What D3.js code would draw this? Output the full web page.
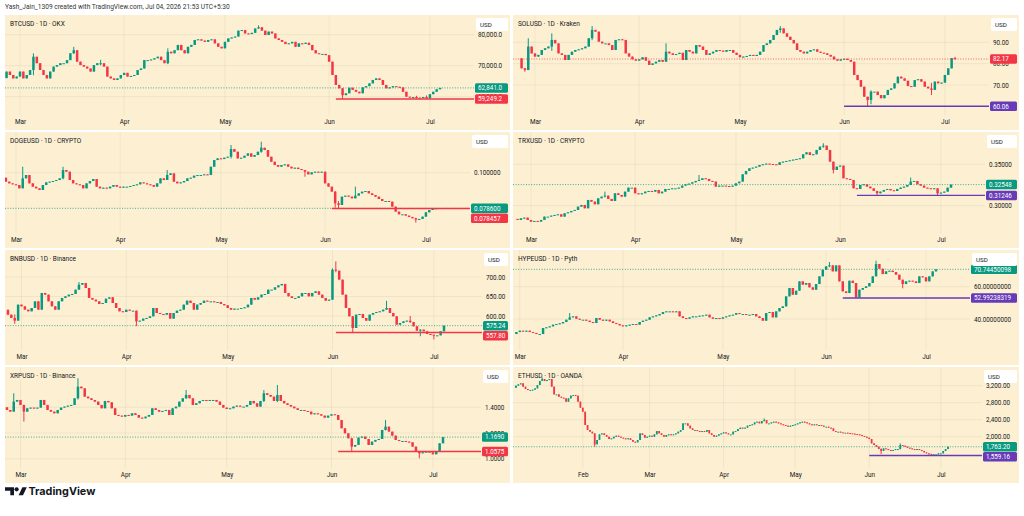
<!DOCTYPE html>
<html><head><meta charset="utf-8">
<script src="https://cdn.jsdelivr.net/npm/d3@7/dist/d3.min.js"></script>
<style>html,body{margin:0;padding:0;background:#fff}svg{display:block}</style>
</head><body>
<svg id="chart" width="1024" height="516"></svg>
<script>
// ================= DATA =================
const headerText = "Yash_Jain_1309 created with TradingView.com, Jul 04, 2026 21:53 UTC+5:30";
const titles = ["BTCUSD · 1D · OKX","SOLUSD · 1D · Kraken","DOGEUSD · 1D · CRYPTO","TRXUSD · 1D · CRYPTO",
                "BNBUSD · 1D · Binance","HYPEUSD · 1D · Pyth","XRPUSD · 1D · Binance","ETHUSD · 1D · OANDA"];
const startDates = ["2026-02-25","2026-02-25","2026-02-25","2026-02-25","2026-02-25","2026-02-28","2026-02-25","2026-01-04"];
const firstOpens = [66000, 82.5, 0.0990, 0.2840, 616, 30.73, 1.40, 3150];

const btcClose=[68100,67000,65900,66500,68100,65900,67000,68600,72900,70800,
68600,67000,65900,68100,69700,70200,70800,70800,71800,74000,
75000,71300,70200,69700,69100,68100,70200,70800,70800,69700,
66500,65900,65400,65900,67000,67700,66500,66700,67000,68600,
69100,71800,71800,72000,72400,72900,71800,70800,74500,74000,
75000,76700,75000,74000,76100,76700,78300,78500,78100,77700,
78300,78500,77200,76100,75600,77700,78800,79100,79400,81300,
81500,80400,80200,80600,82000,82400,81300,79900,81000,80400,
78800,78300,77700,77000,77200,77700,76100,77200,77000,77400,
76700,75000,74000,73800,73800,73400,71300,67000,63800,62700,
60500,61100,62900,62200,61600,61100,63000,63400,64300,65400,
65900,65400,63800,62700,63000,63400,63200,63000,61600,60000,
59800,59900,59700,59600,59900,59500,60800,61600,62400,62841.0];
const btcWicks=[[8,74000,66900],[20,76100,73800],[28,71900,70100],[48,75600,70500],[75,83000,81900],[100,62800,59249.2],[122,60300,59300],[125,60400,59249.2]];

const solClose=[77.8,77.0,88.0,84.8,83.3,84.1,86.4,87.2,88.0,91.1,
89.5,84.8,84.1,81.7,84.1,85.6,86.4,86.7,87.2,88.0,
91.9,95.8,95.0,90.3,89.5,89.5,88.7,86.4,91.1,91.4,
91.1,84.8,83.3,82.0,81.4,82.0,83.0,81.4,79.4,80.1,
80.9,81.7,80.9,85.6,84.8,84.1,84.5,85.1,81.7,86.4,
85.6,84.8,88.7,88.0,86.4,84.1,84.8,85.6,86.4,86.1,
85.6,86.4,86.4,85.1,84.1,83.0,83.3,83.6,84.1,83.6,
84.1,85.6,88.7,89.5,91.1,93.4,95.8,96.5,94.2,92.6,
91.1,89.5,86.4,85.6,84.8,85.6,86.4,86.7,85.6,85.1,
84.8,84.1,83.3,82.0,81.4,82.0,82.3,81.7,80.9,74.7,
72.3,69.2,64.5,63.0,66.9,66.9,65.3,63.8,65.3,67.7,
68.4,70.8,73.9,73.1,72.0,69.5,69.2,72.3,72.7,71.6,
69.2,68.4,67.7,71.6,70.8,71.1,74.7,77.8,82.6,82.17];
const solWicks=[[1,78.0,76.2],[2,91.9,77.0],[9,94.2,86.0],[21,97.6,91.0],[43,89.5,81.0],[77,97.6,94.5],[103,64.5,60.06],[104,67.5,61.0],[122,71.0,65.3],[129,83.2,81.9]];

const dogeClose=[0.0970,0.0946,0.0936,0.0930,0.0926,0.0906,0.0966,0.0986,0.0936,0.0916,
0.0906,0.0896,0.0926,0.0942,0.0946,0.0950,0.0956,0.0966,0.1016,0.1006,
0.0956,0.0936,0.0930,0.0926,0.0906,0.0936,0.0950,0.0962,0.0916,0.0906,
0.0910,0.0906,0.0916,0.0926,0.0916,0.0910,0.0916,0.0916,0.0920,0.0926,
0.0930,0.0942,0.0936,0.0930,0.0926,0.0916,0.0936,0.0966,0.0956,0.0986,
0.0996,0.0946,0.0936,0.0942,0.0950,0.0966,0.0970,0.0982,0.0986,0.0986,
0.0990,0.0986,0.1036,0.1076,0.1086,0.1082,0.1090,0.1096,0.1142,0.1126,
0.1086,0.1090,0.1102,0.1116,0.1096,0.1106,0.1126,0.1150,0.1136,0.1096,
0.1066,0.1046,0.1036,0.1046,0.1050,0.1036,0.1026,0.1030,0.1022,0.1016,
0.1006,0.0990,0.1002,0.1006,0.1002,0.1006,0.0936,0.0916,0.0886,0.0816,
0.0806,0.0856,0.0862,0.0856,0.0846,0.0862,0.0876,0.0886,0.0890,0.0876,
0.0866,0.0856,0.0842,0.0830,0.0830,0.0826,0.0796,0.0766,0.0750,0.0750,
0.0742,0.0734,0.0726,0.0718,0.0722,0.0736,0.0762,0.0776,0.0782,0.0786];
const dogeWicks=[[6,0.1036,0.0920],[18,0.1036,0.0960],[49,0.1016,0.0980],[68,0.1166,0.1085],[77,0.1186,0.1120],[90,0.1006,0.0976],[99,0.0890,0.0790],[100,0.0830,0.078457],[105,0.0916,0.0850],[123,0.0730,0.0700]];

const trxClose=[0.28277,0.28478,0.28559,0.28277,0.28076,0.28156,0.28076,0.28277,0.2868,0.2868,
0.288,0.28881,0.28961,0.2868,0.29082,0.29203,0.29364,0.29485,0.29887,0.30089,
0.29686,0.30692,0.30491,0.30169,0.30894,0.31095,0.31216,0.30813,0.30572,0.31498,
0.31296,0.31095,0.31699,0.3218,0.3218,0.31498,0.31377,0.31498,0.31699,0.31779,
0.31699,0.319,0.31498,0.31699,0.32021,0.32021,0.32101,0.32101,0.3218,0.32423,
0.32585,0.32665,0.32826,0.32987,0.33108,0.33309,0.33229,0.32987,0.32907,0.32303,
0.32423,0.32423,0.32383,0.32303,0.32423,0.32705,0.32907,0.33792,0.34195,0.34517,
0.34597,0.34718,0.3492,0.35,0.3508,0.3504,0.35,0.3492,0.35242,0.35322,
0.35403,0.35483,0.35564,0.35644,0.35725,0.36208,0.36449,0.36127,0.36208,0.36731,
0.37134,0.37254,0.36731,0.35322,0.34316,0.34718,0.34839,0.33309,0.33229,0.33108,
0.32101,0.32021,0.32504,0.32585,0.32303,0.32101,0.31779,0.31498,0.31699,0.319,
0.32021,0.3186,0.31779,0.32021,0.3218,0.32303,0.32504,0.32907,0.32987,0.32585,
0.32423,0.3218,0.32101,0.32021,0.32101,0.31498,0.31579,0.31699,0.3218,0.32548];
const trxWicks=[[26,0.3170,0.3100],[54,0.3371,0.3300],[91,0.3754,0.3700],[94,0.3520,0.3390],[107,0.3180,0.31246],[117,0.3340,0.3275],[125,0.3200,0.31246]];

const bnbClose=[603.4,594.9,588.0,629.1,624.8,616.2,612.0,620.5,637.6,616.2,
659.0,654.7,637.6,624.8,616.2,637.6,646.2,650.4,654.7,656.4,
667.5,680.3,684.6,671.8,646.2,641.9,637.6,630.8,633.3,644.4,
647.9,633.3,620.5,612.0,610.3,616.2,613.7,613.7,586.3,588.0,
593.2,594.9,599.1,620.5,607.7,605.1,603.4,607.7,593.2,607.7,
613.7,616.2,629.1,639.3,633.3,616.2,629.1,633.3,639.3,637.6,
637.6,635.9,635.9,630.8,627.4,620.5,616.2,618.8,618.8,620.5,
622.2,629.1,646.2,641.9,647.9,654.7,656.4,667.5,667.5,673.5,
678.6,682.1,659.0,650.4,646.2,646.2,650.4,659.0,659.0,650.4,
659.0,663.2,654.7,646.2,639.3,641.9,718.8,716.2,693.2,654.7,
620.5,599.1,569.2,603.4,605.1,594.9,588.0,603.4,607.7,610.3,
612.0,616.2,620.5,607.7,599.1,577.8,582.1,586.3,588.0,584.6,
573.5,562.4,565.0,560.7,553.8,552.1,550.4,550.4,560.7,575.24];
const bnbWicks=[[2,604,580],[21,687,676],[38,613,574],[96,722,641],[97,740,712],[102,600,557.8],[112,639,618],[119,600,582],[122,566,548],[126,552,540]];

const hypeClose=[31.96,32.79,32.38,32.79,31.96,31.35,30.73,30.73,34.44,34.85,
35.47,36.50,36.91,37.32,38.15,39.59,41.03,41.65,40.21,39.59,
39.59,38.97,38.15,37.53,40.62,39.59,38.97,39.59,38.56,37.53,
36.91,36.09,35.47,36.09,36.50,36.91,36.50,38.15,38.97,39.59,
41.03,41.65,42.27,43.10,44.33,44.75,44.75,44.33,44.75,41.65,
40.62,40.21,41.03,41.65,41.65,42.07,42.27,42.68,41.03,40.21,
40.62,40.21,41.03,41.65,42.27,42.68,43.71,43.10,43.10,42.68,
42.68,43.10,41.65,40.62,38.97,43.71,44.33,41.03,44.75,46.81,
47.84,54.02,59.18,55.05,57.53,63.30,61.24,62.27,59.59,58.14,
61.65,66.39,70.51,72.57,73.19,69.48,73.19,63.30,57.11,56.08,
63.71,62.27,53.40,58.14,59.18,60.21,62.27,66.39,74.02,71.13,
67.83,69.48,69.89,69.07,67.42,64.33,61.65,63.30,63.71,63.30,
62.27,66.39,65.77,63.30,66.39,69.48,70.74450098];
const hypeWicks=[[16,43.7,40.5],[94,75.3,72.0],[102,58.5,52.99238319],[108,76.1,71.5],[116,64.0,59.0]];

const xrpClose=[1.3793,1.3664,1.4439,1.4568,1.4181,1.3664,1.3922,1.3974,1.3922,1.3974,
1.4568,1.4181,1.3793,1.3664,1.3535,1.3793,1.3974,1.4052,1.4129,1.4181,
1.4698,1.5602,1.5473,1.4827,1.4698,1.4568,1.4439,1.4181,1.3922,1.4491,
1.4388,1.3922,1.3406,1.3354,1.3276,1.3406,1.3354,1.3535,1.3406,1.3199,
1.3147,1.3276,1.3406,1.3922,1.3793,1.3664,1.3716,1.3793,1.3406,1.3922,
1.4052,1.4439,1.4698,1.4956,1.4698,1.4181,1.4310,1.4491,1.4568,1.4491,
1.4568,1.4568,1.4439,1.4181,1.3974,1.3871,1.3922,1.4052,1.4129,1.4052,
1.4052,1.4181,1.4491,1.4310,1.4052,1.4491,1.5085,1.4956,1.4827,1.4491,
1.4956,1.4491,1.4310,1.4181,1.4052,1.3922,1.3793,1.3793,1.3716,1.3664,
1.3457,1.3535,1.3457,1.3354,1.3199,1.3354,1.3457,1.3406,1.3018,1.2372,
1.1984,1.1597,1.0951,1.1080,1.1649,1.1726,1.1545,1.1080,1.1339,1.1468,
1.1545,1.2243,1.2501,1.2114,1.1804,1.1468,1.1390,1.1390,1.1339,1.1287,
1.0951,1.0563,1.0434,1.0512,1.0563,1.0512,1.0357,1.0615,1.1209,1.1690];
const xrpWicks=[[2,1.5085,1.40],[5,1.42,1.289],[21,1.6248,1.46],[53,1.534,1.465],[76,1.534,1.44],[80,1.573,1.44],[102,1.16,1.0575],[112,1.302,1.22],[122,1.06,1.0047]];

const ethClose=[3200,3231,3255,3176,3122,3098,3098,3106,3137,3216,
3310,3357,3310,3333,3357,3176,2996,2996,2941,2918,
2902,2824,2902,2965,2980,2965,2824,2682,2588,2275,
2157,2118,2078,1820,1922,2055,2078,2039,2000,1945,
1961,2000,2024,2000,1976,1961,1945,1961,1922,1882,
1867,1922,2078,2039,1976,2000,2024,2000,2055,2133,
2078,2039,2000,2039,2055,2039,2055,2078,2118,2157,
2314,2314,2259,2196,2157,2157,2133,2118,2133,2118,
2157,2078,2039,2000,2024,2055,2078,2102,2078,2055,
2055,2118,2133,2180,2212,2196,2212,2259,2275,2290,
2337,2353,2314,2369,2392,2314,2314,2337,2353,2337,
2314,2290,2275,2259,2235,2259,2275,2290,2314,2337,
2353,2337,2314,2290,2275,2290,2275,2275,2259,2235,
2235,2212,2196,2133,2118,2118,2102,2094,2094,2086,
2078,2071,2063,2055,2039,2016,2000,1976,1945,1843,
1804,1765,1710,1663,1725,1710,1686,1663,1686,1710,
1710,1804,1788,1765,1741,1725,1710,1686,1710,1686,
1663,1631,1608,1584,1569,1584,1584,1608,1608,1663,
1710,1763.20];
const ethWicks=[[11,3390,3330],[33,2080,1760],[104,2430,2360],[153,1725,1590],[161,1843,1700],[174,1600,1559.16]];

// price-axis tick values
const btcTicks=[60000,70000,80000];
const solTicks=[70,80,90];
const dogeTicks=[0.10];
const trxTicks=[0.30,0.35];
const bnbTicks=[600,650,700];
const hypeTicks=[40,60];
const xrpTicks=[1.0,1.2,1.4];
const ethTicks=[2000,2400,2800,3200];

// horizontal support lines: [value, start date]
const btcLine=[59249.2,"2026-06-03"];
const solLine=[60.06,"2026-06-01"];
const dogeLine=[0.078457,"2026-06-03"];
const trxLine=[0.31246,"2026-06-06"];
const bnbLine=[557.80,"2026-06-02"];
const hypeLine=[52.99238319,"2026-06-06"];
const xrpLine=[1.0575,"2026-06-03"];
const ethLine=[1559.16,"2026-06-01"];

// ================= STYLE / LAYOUT =================
const UP="#089981", DOWN="#f23645", PURPLE="#673ab7";
const BG="#fdf0d2", GRID="rgba(42,46,57,0.06)", TXT="#131722";
const FONT="Roboto, 'Liberation Sans', Arial, sans-serif";
const DAY=864e5;
const cols=[{x0:5,x1:510},{x0:513,x1:1019}];
const rows=[{y0:15,y1:130},{y0:132,y1:248},{y0:250,y1:365},{y0:367,y1:483}];

const panels=[
 {col:0,row:0,close:btcClose,wicks:btcWicks,ticks:btcTicks,fmt:",.1f",line:btcLine,lineColor:DOWN,axisW:36,yDom:[54097,86355],spacing:3.36,pad:34},
 {col:1,row:0,close:solClose,wicks:solWicks,ticks:solTicks,fmt:".2f",line:solLine,lineColor:PURPLE,axisW:30,yDom:[55.95,102.79],spacing:3.36,pad:34},
 {col:0,row:1,close:dogeClose,wicks:dogeWicks,ticks:dogeTicks,fmt:".6f",line:dogeLine,lineColor:DOWN,axisW:40,yDom:[0.063762,0.124459],spacing:3.36,pad:34},
 {col:1,row:1,close:trxClose,wicks:trxWicks,ticks:trxTicks,fmt:".5f",line:trxLine,lineColor:PURPLE,axisW:34,yDom:[0.267029,0.389010],spacing:3.36,pad:34},
 {col:0,row:2,close:bnbClose,wicks:bnbWicks,ticks:bnbTicks,fmt:".2f",line:bnbLine,lineColor:DOWN,axisW:28,yDom:[512.8,769.2],spacing:3.38,pad:38},
 {col:1,row:2,close:hypeClose,wicks:hypeWicks,ticks:hypeTicks,fmt:".8f",line:hypeLine,lineColor:PURPLE,axisW:49,yDom:[20.85,82.70],spacing:3.33,pad:34},
 {col:0,row:3,close:xrpClose,wicks:xrpWicks,ticks:xrpTicks,fmt:".4f",line:xrpLine,lineColor:DOWN,axisW:29,yDom:[0.9295,1.7124],spacing:3.38,pad:38},
 {col:1,row:3,close:ethClose,wicks:ethWicks,ticks:ethTicks,fmt:",.2f",line:ethLine,lineColor:PURPLE,axisW:37,yDom:[1263.5,3640],spacing:2.387,pad:34}
];

function parseDate(s){const [a,b,c]=s.split("-").map(Number);return Date.UTC(a,b-1,c);}

const svg=d3.select("#chart");
const defs=svg.append("defs");

svg.append("text").attr("x",5).attr("y",9.4).attr("font-family",FONT).attr("font-size",6.6)
  .attr("fill","#333").text(headerText);

panels.forEach((p,k)=>{
  const {x0,x1}=cols[p.col], {y0,y1}=rows[p.row];
  const axisX=x1-p.axisW, plotB=y1-15;
  const g=svg.append("g");
  g.append("rect").attr("x",x0).attr("y",y0).attr("width",x1-x0).attr("height",y1-y0).attr("fill",BG);
  defs.append("clipPath").attr("id","cp"+k).append("rect")
    .attr("x",x0).attr("y",y0).attr("width",axisX-x0).attr("height",plotB-y0);
  defs.append("clipPath").attr("id","tp"+k).append("rect")
    .attr("x",x0).attr("y",plotB).attr("width",axisX-x0).attr("height",y1-plotB);

  const t0=parseDate(startDates[k]);
  const data=p.close.map((c,i)=>{const o=i?p.close[i-1]:firstOpens[k];
    return {t:new Date(t0+i*DAY),o,c,h:Math.max(o,c),l:Math.min(o,c)};});
  p.wicks.forEach(([i,h,l])=>{const d=data[i];d.h=Math.max(d.h,h);d.l=Math.min(d.l,l);});
  const lastT=t0+(data.length-1)*DAY;
  const rightT=lastT+p.pad/p.spacing*DAY;
  const leftT=rightT-(axisX-x0)/p.spacing*DAY;
  const x=d3.scaleUtc().domain([new Date(leftT),new Date(rightT)]).range([x0,axisX]);
  const y=d3.scaleLinear().domain(p.yDom).range([plotB,y0]);
  const months=x.ticks(d3.utcMonth.every(1));

  const plot=g.append("g").attr("clip-path",`url(#cp${k})`);
  plot.selectAll(".vg").data(months).join("line")
    .attr("x1",d=>x(d)).attr("x2",d=>x(d)).attr("y1",y0).attr("y2",plotB)
    .attr("stroke",GRID).attr("stroke-width",1);
  plot.selectAll(".hg").data(p.ticks).join("line")
    .attr("x1",x0).attr("x2",axisX).attr("y1",d=>y(d)).attr("y2",d=>y(d))
    .attr("stroke",GRID).attr("stroke-width",1);

  const col=d=>d.c>=d.o?UP:DOWN;
  const bw=Math.max(1.2,p.spacing*0.74);
  plot.selectAll(".wk").data(data).join("line")
    .attr("x1",d=>x(d.t)).attr("x2",d=>x(d.t)).attr("y1",d=>y(d.h)).attr("y2",d=>y(d.l))
    .attr("stroke",col).attr("stroke-width",1);
  plot.selectAll(".bd").data(data).join("rect")
    .attr("x",d=>x(d.t)-bw/2).attr("width",bw)
    .attr("y",d=>Math.min(y(d.o),y(d.c)))
    .attr("height",d=>Math.max(1,Math.abs(y(d.o)-y(d.c))))
    .attr("fill",col);

  const last=data[data.length-1], lastCol=col(last);
  plot.append("line").attr("x1",x0).attr("x2",axisX).attr("y1",y(last.c)).attr("y2",y(last.c))
    .attr("stroke",lastCol).attr("stroke-width",0.9).attr("stroke-dasharray","1 1.6").attr("opacity",0.85);
  const [lv,ld]=p.line;
  plot.append("line").attr("x1",x(new Date(parseDate(ld)))).attr("x2",axisX)
    .attr("y1",y(lv)).attr("y2",y(lv)).attr("stroke",p.lineColor).attr("stroke-width",1.4);

  // time axis
  const tAxis=d3.axisBottom(x).tickValues(months).tickFormat(d3.utcFormat("%b")).tickSize(0).tickPadding(0);
  const ta=g.append("g").attr("clip-path",`url(#tp${k})`).append("g")
    .attr("transform",`translate(0,${y1-11})`).call(tAxis);
  ta.select(".domain").remove();
  ta.selectAll("text").attr("font-family",FONT).attr("font-size",6.4).attr("fill",TXT).attr("dy","0.71em");

  // price axis
  const fmt=d3.format(p.fmt);
  const pAxis=d3.axisRight(y).tickValues(p.ticks).tickFormat(fmt).tickSize(0).tickPadding(4);
  const pa=g.append("g").attr("transform",`translate(${axisX},0)`).call(pAxis);
  pa.select(".domain").remove();
  pa.selectAll("text").attr("font-family",FONT).attr("font-size",6.3).attr("fill",TXT);

  // price labels (current + line), pushed apart if overlapping
  const LH=9.5;
  const labs=[{v:last.c,c:lastCol,y:y(last.c)},{v:lv,c:p.lineColor,y:y(lv)}];
  if(Math.abs(labs[1].y-labs[0].y)<LH+0.5){
    labs[1].y = labs[1].y>=labs[0].y ? labs[0].y+LH+0.5 : labs[0].y-LH-0.5;
  }
  labs.forEach(L=>{
    g.append("rect").attr("x",axisX+1).attr("y",L.y-LH/2).attr("width",x1-2-(axisX+1)).attr("height",LH)
      .attr("rx",1.5).attr("fill",L.c);
    g.append("text").attr("x",axisX+4).attr("y",L.y+2.3).attr("font-family",FONT).attr("font-size",6.3)
      .attr("fill","#fff").text(fmt(L.v));
  });

  // USD box
  g.append("rect").attr("x",axisX+2).attr("y",y0+3).attr("width",x1-2-(axisX+2)).attr("height",13)
    .attr("rx",2).attr("fill","#fff");
  g.append("text").attr("x",axisX+6).attr("y",y0+11.8).attr("font-family",FONT).attr("font-size",6.2)
    .attr("fill",TXT).text("USD");

  // title
  g.append("text").attr("x",x0+5).attr("y",y0+11.3).attr("font-family",FONT).attr("font-size",6.5)
    .attr("fill",TXT).text(titles[k]);
});

// TradingView logo
const logo=svg.append("g").attr("fill","#131722");
logo.append("path").attr("d","M5,487.3 H14 V495.3 H10.3 V490.8 H5 Z");
logo.append("circle").attr("cx",16.6).attr("cy",489.3).attr("r",2.1);
logo.append("path").attr("d","M18.6,495.3 L22.4,487.3 H26.8 L23,495.3 Z");
svg.append("text").attr("x",28.5).attr("y",495.3).attr("font-family","Inter, Roboto, sans-serif")
  .attr("font-weight",700).attr("font-size",10.8).attr("fill","#131722").text("TradingView");
</script>
</body></html>
